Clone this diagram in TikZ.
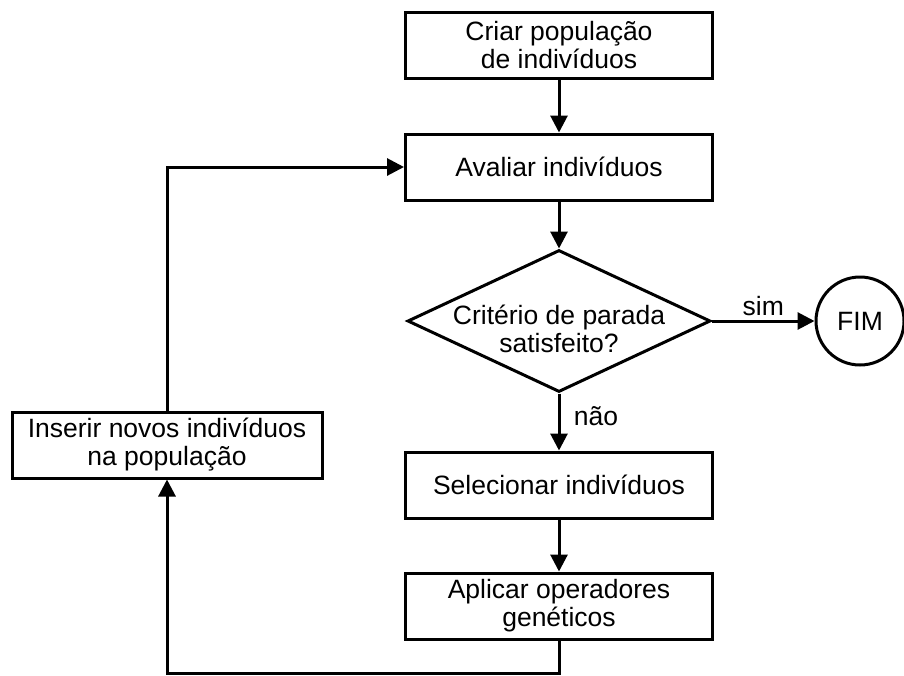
\documentclass[tikz,border=0pt]{standalone}
\usepackage{fontspec}
\setmainfont{Liberation Sans}
\usetikzlibrary{shapes.geometric,arrows.meta,positioning}

\begin{document}
\begin{tikzpicture}[x=1pt,y=-1pt,
        font=\fontsize{26.5}{28}\selectfont,
        caixa/.style={draw, rectangle, line width=3pt, minimum width=307pt, minimum height=66pt, inner sep=0pt, align=center},
        decisao/.style={draw, diamond, line width=3pt, minimum width=303pt, minimum height=142pt, inner sep=0pt},
        fim/.style={draw, circle, line width=3pt, minimum size=88pt, inner sep=0pt},
        seta/.style={line width=3pt, -{Triangle[length=17pt,width=17pt]}}]
        \useasboundingbox (0,0) rectangle (904,675);
        %Boxes
        \node[caixa] (criar) at (559,45) {Criar população\\de indivíduos};
        \node[caixa] (avaliar) at (559,167) {Avaliar indivíduos};
        \node[decisao] (criterio) at (559,321) {};
        \node[align=center] (criteriotxt) at (559,329) {Critério de parada\\satisfeito?};
        \node[fim] (final) at (860,321) {FIM};
        \node[caixa] (selecionar) at (559,485) {Selecionar indivíduos};
        \node[caixa] (aplicar) at (559,606) {Aplicar operadores\\genéticos};
        \node[caixa, minimum width=310pt] (inserir) at (167,445) {Inserir novos indivíduos\\na população};
        %Arrows
        \draw[seta] (criar) -- (avaliar);
        \draw[seta] (avaliar) -- (criterio);
        \draw[seta] (criterio.east) -- (final) node[midway, above] {sim};
        \draw[seta] (criterio.south) -- (selecionar) node[pos=0.4, right=10pt] {não};
        \draw[seta] (selecionar) -- (aplicar);
        \draw[seta] (aplicar.south) -- ++(0,33) -| (inserir.south);
        \draw[seta] (inserir.north) |- (avaliar.west);
\end{tikzpicture}
\end{document}
